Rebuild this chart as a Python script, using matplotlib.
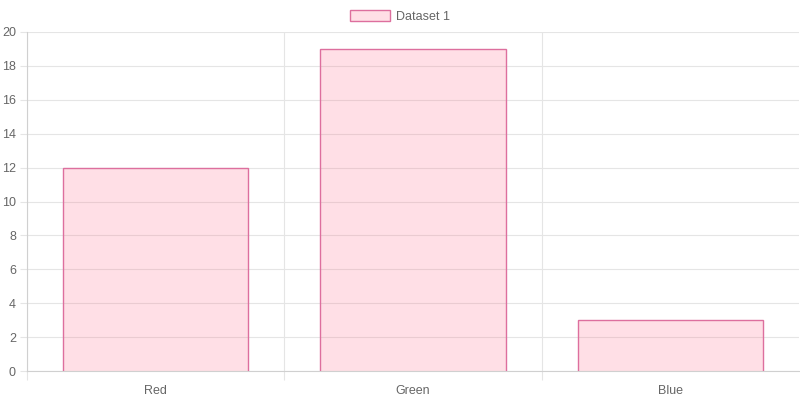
import matplotlib.pyplot as plt
from matplotlib.patches import Patch
import numpy as np

labels = ['Red', 'Green', 'Blue']
values = [12, 19, 3]
series_name = 'Dataset 1'

fill_color = (1.0, 99 / 255, 132 / 255, 0.2)
edge_color = '#DD6F9E'
grid_color = '#E5E5E5'
text_color = '#666666'

plt.rcParams['font.family'] = ['Liberation Sans', 'DejaVu Sans']

fig = plt.figure(figsize=(8, 4), dpi=100)
ax = fig.add_axes([27 / 800, 29 / 400, 772 / 800, 339 / 400])

x = np.arange(len(labels))
width = 0.72
ax.bar(x, values, width=width, color=fill_color, edgecolor='none', zorder=2)
# border on top and sides only (like chart.js borderSkipped)
for xi, v in zip(x, values):
    ax.plot([xi - width / 2, xi - width / 2, xi + width / 2, xi + width / 2],
            [0, v, v, 0], color=edge_color, lw=1.0, zorder=3,
            solid_joinstyle='miter')

ax.set_xlim(-0.5, len(labels) - 0.5)
ax.set_ylim(0, 20)
ax.set_yticks(np.arange(0, 21, 2))
ax.set_xticks(x)
ax.set_xticklabels(labels)
ax.set_xticks(np.arange(-0.5, len(labels) - 1, 1.0), minor=True)

ax.grid(True, axis='y', color=grid_color, lw=0.8, zorder=0)
ax.grid(True, axis='x', which='minor', color=grid_color, lw=0.8, zorder=0)

for s in ['top', 'right']:
    ax.spines[s].set_visible(False)
ax.spines['left'].set_color('#D0D0D0')
ax.spines['bottom'].set_color('#D0D0D0')
ax.spines['left'].set_linewidth(0.8)
ax.spines['bottom'].set_linewidth(0.8)

# sizes in points (1px = 0.72pt at dpi 100)
ax.tick_params(axis='y', length=5, color=grid_color, width=0.8, pad=3,
               labelsize=9, labelcolor=text_color)
ax.tick_params(axis='x', which='major', length=0, pad=10,
               labelsize=9, labelcolor=text_color)
ax.tick_params(axis='x', which='minor', length=6.5, color=grid_color, width=0.8)

handle = Patch(facecolor=fill_color, edgecolor=edge_color, linewidth=1.0)
fig.legend([handle], [series_name], loc='upper center',
           bbox_to_anchor=(0.5, 1.0), frameon=False, fontsize=9,
           labelcolor=text_color, handlelength=3.2, handleheight=1.0,
           handletextpad=0.5, borderaxespad=0.4)

fig.savefig('out.png', dpi=100, facecolor='white')
